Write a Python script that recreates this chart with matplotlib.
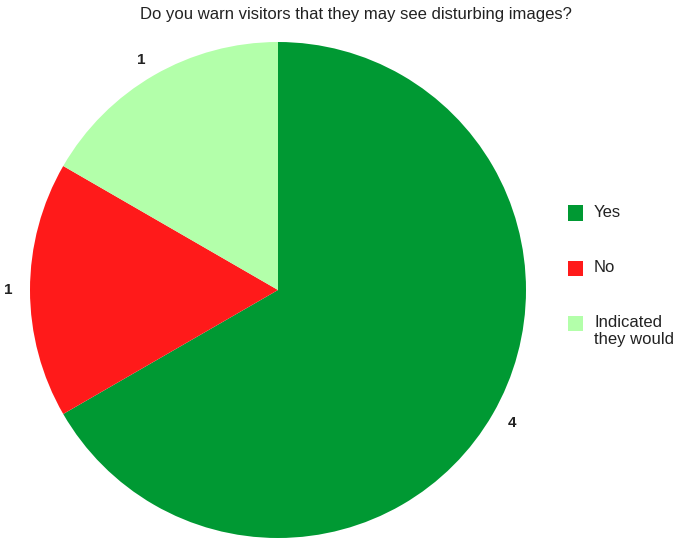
import matplotlib.pyplot as plt
from matplotlib.patches import Rectangle

plt.rcParams['font.family'] = ['Liberation Sans', 'DejaVu Sans']

labels = ['Yes', 'No', 'Indicated\nthey would']
values = [4, 1, 1]
colors = ['#009933', '#ff1a1a', '#b3ffaa']

W, H = 674, 538
fig = plt.figure(figsize=(W / 100, H / 100), dpi=100)
ax = fig.add_axes([30 / W, 0.0, 496 / W, 496 / H])

wedges, texts = ax.pie(values, labels=[str(v) for v in values], colors=colors,
                       startangle=90, counterclock=False, labeldistance=1.07,
                       wedgeprops={'linewidth': 0},
                       textprops={'fontsize': 11, 'fontweight': 'bold', 'color': '#222222'})
ax.set_xlim(-1, 1)
ax.set_ylim(-1, 1)
ax.set_aspect('equal')

fig.text(356 / W, 1 - 14 / H, 'Do you warn visitors that they may see disturbing images?',
         ha='center', va='center', fontsize=12, color='#222222')

# legend drawn by hand so the box lines up with the first line of text
for i, (lab, c) in enumerate(zip(labels, colors)):
    yc = 213 + 55 * i
    fig.add_artist(Rectangle((568 / W, 1 - (yc + 7.5) / H), 15 / W, 15 / H,
                             transform=fig.transFigure, facecolor=c, edgecolor='none'))
    fig.text(594 / W, 1 - (yc - 8) / H, lab, ha='left', va='top', fontsize=12,
             color='#222222', linespacing=1.15)

fig.savefig('out.png', dpi=100)
